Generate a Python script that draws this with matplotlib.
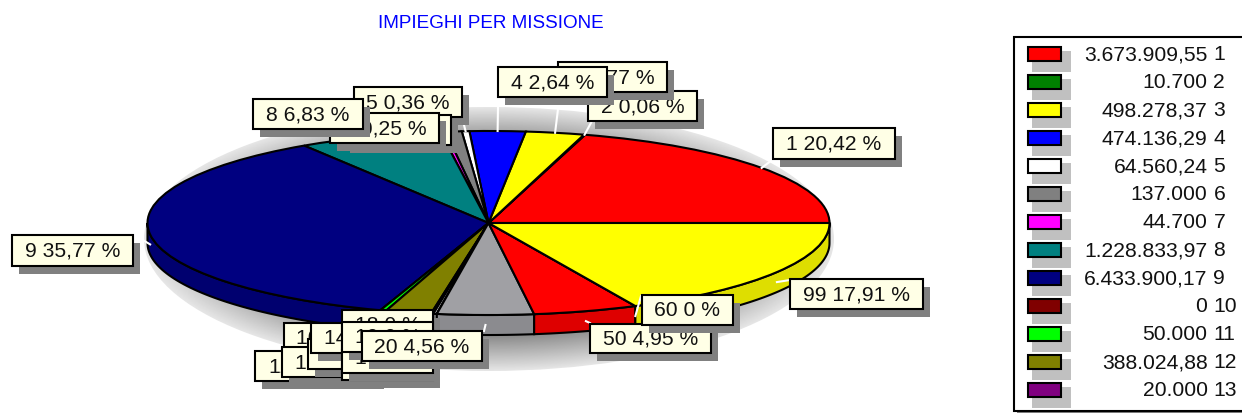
# -*- coding: utf-8 -*-
import numpy as np
import matplotlib
matplotlib.use("Agg")
import matplotlib.pyplot as plt
from matplotlib.patches import Rectangle, Ellipse, Polygon

plt.rcParams['font.family'] = ['Liberation Sans', 'DejaVu Sans']

# slices, counter-clockwise from the right hand side
codes = [1, 2, 3, 4, 5, 6, 7, 8, 9, 10, 11, 12, 13, 14, 15, 16, 17, 18, 19, 20, 50, 60, 99]
values = [3673909.55, 10700, 498278.37, 474136.29, 64560.24, 137000, 44700,
          1228833.97, 6433900.17, 0, 50000, 388024.88, 20000,
          0, 0, 0, 30000, 0, 0, 820000, 890000, 0, 3222000]
colors = ['#ff0000', '#008000', '#ffff00', '#0000ff', '#ffffff', '#808080', '#ff00ff',
          '#008080', '#000080', '#800000', '#00ff00', '#808000', '#800080',
          '#c0c0c0', '#00ffff', '#c0c0c0', '#c0c0c0', '#c0dcc0', '#a6caf0', '#a0a0a4',
          '#ff0000', '#808000', '#ffff00']
percents = ['20,42', '0,06', '2,77', '2,64', '0,36', '0,76', '0,25', '6,83', '35,77',
            '0', '0,28', '2,16', '0,11', '0', '0', '0', '0,17', '0', '0', '4,56',
            '4,95', '0', '17,91']
n_legend = 13

# label boxes in pixels: left, top, right, bottom
boxes = [(773, 129, 895, 160), (588, 92, 697, 122), (558, 63, 667, 93), (498, 68, 607, 98),
         (354, 88, 462, 118), (343, 116, 451, 146), (330, 114, 439, 144), (253, 100, 363, 130),
         (12, 236, 133, 267), (284, 324, 375, 354), (255, 352, 377, 382), (282, 348, 403, 378),
         (308, 340, 433, 370), (311, 324, 402, 354), (342, 351, 433, 381), (342, 344, 433, 374),
         (312, 340, 433, 370), (342, 311, 433, 341), (342, 323, 433, 353), (362, 332, 482, 362),
         (590, 325, 711, 354), (642, 296, 733, 326), (790, 280, 923, 310)]
# where each white leader ends, None when it is not seen
leader_ends = [(772, 161), (592, 122), (558, 110), (498, 108), (462, 118), None, None, None,
               (133, 235), None, None, None, (433, 330), None, None, None, None, None, None,
               (484, 332), (590, 324), (641, 297), (790, 281)]

cx, cy, rx, ry, depth = 488.5, 224, 341, 92, 20


def side_colour(c):
    rgb = np.array(matplotlib.colors.to_rgb(c))
    return rgb * 0.87


fig = plt.figure(figsize=(12.42, 4.14), dpi=100)
ax = fig.add_axes([0, 0, 1, 1])
wedges, _ = ax.pie(values, colors=colors, startangle=0, counterclock=True, radius=1,
                   wedgeprops={'edgecolor': 'black', 'linewidth': 1.5, 'zorder': 5})
xlim = (-cx / rx, (1242 - cx) / rx)
ylim = ((cy - 414) / ry, cy / ry)

# shadow of the pie, fading to the outside
sx, sy, srx, sry = 489, 240, 345, 132
gx, gy = np.meshgrid(np.linspace(sx - srx, sx + srx, 500), np.linspace(sy - sry, sy + sry, 300))
r = np.sqrt(((gx - sx) / srx) ** 2 + ((gy - sy) / sry) ** 2)
shade = np.clip(0.67 + (r - 0.83) * 1.35, 0.5, 0.92)
ext = [(sx - srx - cx) / rx, (sx + srx - cx) / rx, (cy - sy - sry) / ry, (cy - sy + sry) / ry]
im = ax.imshow(shade, extent=ext, cmap='gray', vmin=0, vmax=1, zorder=1, origin='upper')
clip = Ellipse(((sx - cx) / rx, (cy - sy) / ry), 2 * srx / rx, 2 * sry / ry,
               transform=ax.transData, facecolor='none', edgecolor='none')
ax.add_patch(clip)
im.set_clip_path(clip)

# side of the cake, only the front half is seen
fracs = np.cumsum(values) / np.sum(values)
starts = np.concatenate([[0], fracs[:-1]]) * 360
ends = fracs * 360
d = depth / ry
for a1, a2, c in zip(starts, ends, colors):
    a1, a2 = max(a1, 180), max(a2, 180)
    if a2 <= a1:
        continue
    t = np.radians(np.linspace(a1, a2, 60))
    top = np.column_stack([np.cos(t), np.sin(t)])
    low = top[::-1] + [0, -d]
    ax.add_patch(Polygon(np.vstack([top, low]), closed=True, facecolor=side_colour(c),
                         edgecolor='black', linewidth=1.5, zorder=3))

ax.set_aspect('auto')
ax.set_xlim(xlim)
ax.set_ylim(ylim)
ax.axis('off')

# everything else is placed in pixels
lab = fig.add_axes([0, 0, 1, 1], zorder=10)
lab.set_xlim(0, 1242)
lab.set_ylim(414, 0)
lab.axis('off')
lab.patch.set_alpha(0)

lab.text(490.5, 24, 'IMPIEGHI PER MISSIONE', color='#0000ff', fontsize=13.6,
         ha='center', va='center')

# white leaders from the edge of the pie
mids = np.radians((starts + ends) / 2)
for mid, end in zip(mids, leader_ends):
    if end is None:
        continue
    ex = cx + rx * np.cos(mid)
    ey = cy - ry * np.sin(mid)
    if np.sin(mid) < 0:
        ey += depth * 0.5
    lab.plot([ex, end[0]], [ey, end[1]], color='white', lw=1.5, zorder=1)

# labels, later codes lie on top of earlier ones, 17 sits under all of its neighbours
order = sorted(range(len(codes)), key=lambda i: (codes[i] != 17, codes[i]))
z = 2
for i in order:
    x0, y0, x1, y1 = boxes[i]
    lab.add_patch(Rectangle((x0 + 7, y0 + 8), x1 - x0, y1 - y0, facecolor='#808080',
                            edgecolor='none', zorder=z))
    lab.add_patch(Rectangle((x0, y0), x1 - x0, y1 - y0, facecolor='#ffffe6',
                            edgecolor='black', linewidth=1.5, zorder=z + 0.1))
    lab.text((x0 + x1) / 2, (y0 + y1) / 2, f'{codes[i]} {percents[i]} %', fontsize=15.2,
             ha='center', va='center', color='#111111', zorder=z + 0.2)
    z += 1

# legend, its right side runs off the picture
lab.add_patch(Rectangle((1017, 41), 240, 373, facecolor='#808080', edgecolor='none', zorder=100))
lab.add_patch(Rectangle((1014, 38), 240, 374, facecolor='white', edgecolor='black',
                        linewidth=1.5, zorder=101))


def euro(v):
    s = f'{v:,.2f}'.replace(',', ' ').replace('.', ',').replace(' ', '.')
    return s[:-3] if s.endswith(',00') else s


for i in range(n_legend):
    y = 48 + i * 28
    lab.add_patch(Rectangle((1032, y + 4), 39, 21, facecolor='#c0c0c0', edgecolor='none', zorder=102))
    lab.add_patch(Rectangle((1028, y), 33, 14, facecolor=colors[i], edgecolor='black',
                            linewidth=1.5, zorder=103))
    lab.text(1207.5, y + 7, euro(values[i]), fontsize=15.2, ha='right', va='center',
             color='#111111', zorder=104)
    lab.text(1213.5, y + 7, str(codes[i]), fontsize=15.2, ha='left', va='center',
             color='#111111', zorder=104)

fig.savefig('out.png', dpi=100)
